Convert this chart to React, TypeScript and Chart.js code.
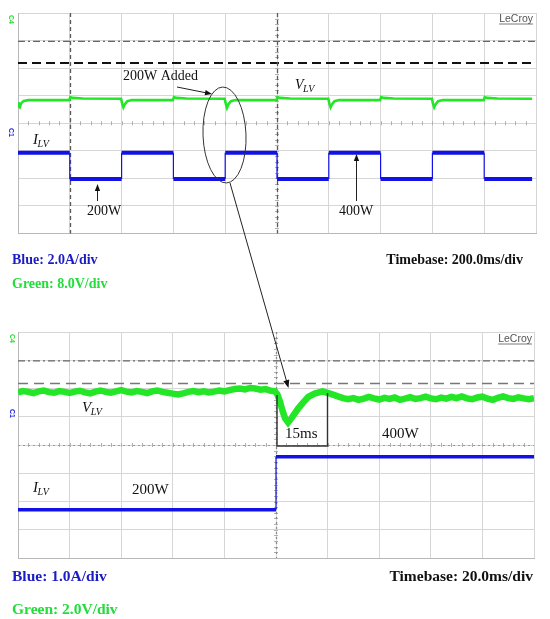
import React, { useEffect, useRef } from "react";
import { Chart, registerables } from "chart.js";
Chart.register(...registerables);

// ---------- Top panel: 200 ms/div, values in screen divisions ----------
const topTimeSpanMs = 2000;
const topTimeStepMs = 200;
const topBlueTimeMs = [0, 200, 200, 400, 400, 600, 600, 800, 800, 1000, 1000, 1200, 1200, 1400, 1400, 1600, 1600, 1800, 1800, 1985];
const topBlueDiv = [2.93, 2.93, 1.98, 1.98, 2.93, 2.93, 1.98, 1.98, 2.93, 2.93, 1.98, 1.98, 2.93, 2.93, 1.98, 1.98, 2.93, 2.93, 1.98, 1.98];
const topGreenTimeMs = [
  0, 3, 7, 12, 22, 40,
  198, 202, 212, 250,
  398, 402, 407, 412, 422, 440,
  598, 602, 612, 650,
  798, 802, 807, 812, 822, 840,
  998, 1002, 1012, 1050,
  1198, 1202, 1207, 1212, 1222, 1240,
  1398, 1402, 1412, 1450,
  1598, 1602, 1607, 1612, 1622, 1640,
  1798, 1802, 1812, 1850,
  1985,
];
const topGreenDiv = [
  4.76, 4.62, 4.58, 4.72, 4.81, 4.84,
  4.84, 4.95, 4.92, 4.9,
  4.89, 4.72, 4.58, 4.68, 4.8, 4.84,
  4.84, 4.95, 4.92, 4.9,
  4.89, 4.72, 4.56, 4.68, 4.8, 4.84,
  4.84, 4.95, 4.92, 4.9,
  4.89, 4.72, 4.58, 4.68, 4.8, 4.84,
  4.84, 4.95, 4.92, 4.9,
  4.89, 4.72, 4.58, 4.68, 4.8, 4.84,
  4.84, 4.95, 4.92, 4.9,
  4.89,
];
const topDashDotLevelDiv = 6.97;
const topDashedLevelDiv = 6.19;
const topMarkerTimesMs = [200, 1000];

// ---------- Bottom panel: 20 ms/div ----------
const botTimeSpanMs = 200;
const botTimeStepMs = 20;
const botBlueTimeMs = [0, 100, 100, 200];
const botBlueDiv = [1.71, 1.71, 3.58, 3.58];
const botGreenTimeMs = [
  0, 2, 4, 6, 8, 10, 12, 14, 16, 18,
  20, 22, 24, 26, 28, 30, 32, 34, 36, 38,
  40, 42, 44, 46, 48, 50, 52, 54, 56, 58,
  60, 62, 64, 66, 68, 70, 72, 74, 76, 78,
  80, 82, 84, 86, 88, 90, 92, 94, 96, 98, 99.5,
  100.5, 101.5, 102.5, 103.5, 104.7, 106, 108.5, 110.5, 112.5, 115, 118, 121,
  124, 126, 128, 130, 132, 134, 136, 138, 140, 142, 144, 146, 148, 150, 152, 154, 156, 158, 160, 162,
  164, 166, 168, 170, 172, 174, 176, 178, 180, 182, 184, 186, 188, 190, 192, 194, 196, 198, 200,
];
const botGreenDiv = [
  5.86, 5.91, 5.88, 5.84, 5.9, 5.93, 5.87, 5.85, 5.91, 5.88,
  5.84, 5.89, 5.92, 5.86, 5.83, 5.89, 5.93, 5.88, 5.85, 5.9,
  5.94, 5.89, 5.86, 5.91, 5.88, 5.84, 5.9, 5.93, 5.88, 5.85,
  5.82, 5.79, 5.83, 5.88, 5.91, 5.87, 5.9, 5.86, 5.89, 5.93,
  5.9, 5.94, 5.98, 6.0, 5.97, 6.02, 6.0, 5.96, 5.98, 5.92, 5.9,
  5.8, 5.55, 5.22, 4.95, 4.8, 4.95, 5.28, 5.5, 5.7, 5.82, 5.9, 5.82,
  5.72, 5.66, 5.62, 5.66, 5.6, 5.64, 5.7, 5.65, 5.61, 5.67, 5.63, 5.68, 5.6, 5.64, 5.69, 5.63, 5.66, 5.71, 5.65, 5.62,
  5.68, 5.64, 5.7, 5.66, 5.72, 5.65, 5.62, 5.68, 5.71, 5.64, 5.6, 5.67, 5.72, 5.66, 5.63, 5.69, 5.65, 5.62, 5.66,
];
const botDashDotLevelDiv = 6.98;
const botDashedLevelDiv = 6.18;
const botCenterTimeMs = 100;

const verticalDivs = 8;

const GREEN = "#22e626";
const BLUE = "#1212e6";
const SERIF = '"Liberation Serif", "Times New Roman", serif';
const SANS = '"Liberation Sans", Arial, sans-serif';

function pts(xs: number[], ys: number[]) {
  return xs.map((x, i) => ({ x, y: ys[i] }));
}

function arrow(ctx: CanvasRenderingContext2D, x1: number, y1: number, x2: number, y2: number, head = 7) {
  const a = Math.atan2(y2 - y1, x2 - x1);
  ctx.beginPath();
  ctx.moveTo(x1, y1);
  ctx.lineTo(x2 - (head - 1) * Math.cos(a), y2 - (head - 1) * Math.sin(a));
  ctx.stroke();
  const w = head * 0.38;
  ctx.beginPath();
  ctx.moveTo(x2, y2);
  ctx.lineTo(x2 - head * Math.cos(a) + w * Math.sin(a), y2 - head * Math.sin(a) - w * Math.cos(a));
  ctx.lineTo(x2 - head * Math.cos(a) - w * Math.sin(a), y2 - head * Math.sin(a) + w * Math.cos(a));
  ctx.closePath();
  ctx.fill();
}

function subLabel(ctx: CanvasRenderingContext2D, main: string, sub: string, x: number, y: number, size: number) {
  ctx.font = `italic ${size}px ${SERIF}`;
  ctx.fillText(main, x, y);
  const w = ctx.measureText(main).width;
  ctx.font = `italic ${Math.round(size * 0.68)}px ${SERIF}`;
  ctx.fillText(sub, x + w - 0.5, y + 3);
}

function lecroy(ctx: CanvasRenderingContext2D, right: number, base: number) {
  ctx.font = `10.5px ${SANS}`;
  ctx.fillStyle = "#555";
  ctx.textAlign = "right";
  ctx.fillText("LeCroy", right, base);
  const w = ctx.measureText("LeCroy").width;
  ctx.strokeStyle = "#555";
  ctx.lineWidth = 0.8;
  ctx.beginPath();
  ctx.moveTo(right - w, base + 2);
  ctx.lineTo(right, base + 2);
  ctx.stroke();
  ctx.textAlign = "left";
}

function chanMark(ctx: CanvasRenderingContext2D, text: string, color: string, x: number, y: number) {
  ctx.save();
  ctx.translate(x, y);
  ctx.rotate(Math.PI / 2);
  ctx.font = `bold 7px ${SANS}`;
  ctx.fillStyle = color;
  ctx.fillText(text, 0, 0);
  ctx.restore();
}

function drawRefs(chart: any, o: { dashDot: number; dashed: number; dashedColor: string; dashedWidth: number; dashedPattern: number[]; vlines: number[]; vColor: string; vDash: number[] }) {
  const { ctx, chartArea: a, scales } = chart;
  const x = scales.x;
  const y = scales.y;
  ctx.save();
  const cy = y.getPixelForValue(verticalDivs / 2);
  const cx = x.getPixelForValue((x.max + x.min) / 2);
  ctx.strokeStyle = "#b0b0b0";
  ctx.lineWidth = 1;
  ctx.beginPath();
  for (let k = 1; k < 50; k++) {
    const px = Math.round(a.left + (k * (a.right - a.left)) / 50) + 0.5;
    ctx.moveTo(px, cy - 2);
    ctx.lineTo(px, cy + 2);
  }
  for (let k = 1; k < 40; k++) {
    const py = Math.round(a.top + (k * (a.bottom - a.top)) / 40) + 0.5;
    ctx.moveTo(cx - 2, py);
    ctx.lineTo(cx + 2, py);
  }
  ctx.stroke();
  const ddy = y.getPixelForValue(o.dashDot);
  ctx.strokeStyle = "#666";
  ctx.lineWidth = 1.3;
  ctx.setLineDash([7, 3, 2, 3]);
  ctx.beginPath();
  ctx.moveTo(a.left, ddy);
  ctx.lineTo(a.right, ddy);
  ctx.stroke();
  const dy = y.getPixelForValue(o.dashed);
  ctx.strokeStyle = o.dashedColor;
  ctx.lineWidth = o.dashedWidth;
  ctx.setLineDash(o.dashedPattern);
  ctx.beginPath();
  ctx.moveTo(a.left, dy);
  ctx.lineTo(a.right, dy);
  ctx.stroke();
  ctx.strokeStyle = o.vColor;
  ctx.lineWidth = 1.3;
  ctx.setLineDash(o.vDash);
  o.vlines.forEach((t) => {
    const px = Math.round(x.getPixelForValue(t)) + 0.5;
    ctx.beginPath();
    ctx.moveTo(px, a.top);
    ctx.lineTo(px, a.bottom);
    ctx.stroke();
  });
  ctx.restore();
}

function baseOptions(span: number, step: number, padding: any) {
  const grid = { color: "#d6d6d6", lineWidth: 1, drawTicks: false };
  const border = { display: true, color: "#b8b8b8", width: 1 };
  return {
    responsive: false,
    animation: false as const,
    events: [] as any[],
    layout: { padding },
    plugins: { legend: { display: false }, tooltip: { enabled: false }, title: { display: false } },
    scales: {
      x: {
        type: "linear" as const,
        min: 0,
        max: span,
        ticks: { display: false, stepSize: step },
        grid,
        border,
        afterFit: (s: any) => {
          s.height = 0;
        },
      },
      y: {
        type: "linear" as const,
        min: 0,
        max: verticalDivs,
        ticks: { display: false, stepSize: 1 },
        grid,
        border,
        afterFit: (s: any) => {
          s.width = 0;
        },
      },
    },
  };
}

function dataset(xs: number[], ys: number[], color: string, width: number) {
  return {
    data: pts(xs, ys),
    borderColor: color,
    backgroundColor: color,
    borderWidth: width,
    pointRadius: 0,
    tension: 0,
    fill: false,
    segment: {
      borderWidth: (c: any) => (c.p0.parsed.x === c.p1.parsed.x ? 1.2 : width),
    },
  };
}

export default function App() {
  const topRef = useRef<HTMLCanvasElement>(null);
  const botRef = useRef<HTMLCanvasElement>(null);

  useEffect(() => {
    const topPlugin = {
      id: "topAnn",
      beforeDatasetsDraw(chart: any) {
        drawRefs(chart, {
          dashDot: topDashDotLevelDiv,
          dashed: topDashedLevelDiv,
          dashedColor: "#111",
          dashedWidth: 2,
          dashedPattern: [9, 5],
          vlines: topMarkerTimesMs,
          vColor: "#5a5a5a",
          vDash: [4, 3],
        });
      },
      afterDraw(chart: any) {
        const ctx: CanvasRenderingContext2D = chart.ctx;
        ctx.save();
        ctx.fillStyle = "#111";
        ctx.strokeStyle = "#222";
        ctx.lineWidth = 1;
        ctx.font = `14px ${SERIF}`;
        ctx.fillText("200W Added", 123, 80);
        arrow(ctx, 177, 87, 212, 94, 7);
        ctx.strokeStyle = "#333";
        ctx.beginPath();
        ctx.ellipse(224.5, 135, 21.5, 48, -0.04, 0, Math.PI * 2);
        ctx.stroke();
        ctx.strokeStyle = "#222";
        arrow(ctx, 230, 183, 288.5, 388, 8);
        ctx.fillStyle = "#111";
        subLabel(ctx, "V", "LV", 295, 89, 14);
        subLabel(ctx, "I", "LV", 33, 144, 15);
        ctx.font = `14px ${SERIF}`;
        ctx.fillText("200W", 87, 215);
        ctx.fillText("400W", 339, 215);
        arrow(ctx, 97.5, 201, 97.5, 184, 7);
        arrow(ctx, 356.5, 201, 356.5, 154, 7);
        lecroy(ctx, 533, 22);
        chanMark(ctx, "C4", GREEN, 9, 15);
        chanMark(ctx, "C1", BLUE, 9, 128);
        ctx.font = `bold 14px ${SERIF}`;
        ctx.fillStyle = "#1c1cc4";
        ctx.fillText("Blue: 2.0A/div", 12, 264);
        ctx.fillStyle = "#22dd3a";
        ctx.fillText("Green: 8.0V/div", 12, 288);
        ctx.fillStyle = "#111";
        ctx.textAlign = "right";
        ctx.fillText("Timebase: 200.0ms/div", 523, 264);
        ctx.restore();
      },
    };

    const botPlugin = {
      id: "botAnn",
      beforeDatasetsDraw(chart: any) {
        drawRefs(chart, {
          dashDot: botDashDotLevelDiv,
          dashed: botDashedLevelDiv,
          dashedColor: "#777",
          dashedWidth: 1.5,
          dashedPattern: [10, 6],
          vlines: [botCenterTimeMs],
          vColor: "#8a8a8a",
          vDash: [2, 3],
        });
        const { ctx, chartArea: a, scales } = chart;
        const cy = scales.y.getPixelForValue(verticalDivs / 2);
        ctx.save();
        ctx.strokeStyle = "#999";
        ctx.setLineDash([2, 3]);
        ctx.beginPath();
        ctx.moveTo(a.left, Math.round(cy) + 0.5);
        ctx.lineTo(a.right, Math.round(cy) + 0.5);
        ctx.stroke();
        ctx.restore();
      },
      afterDraw(chart: any) {
        const ctx: CanvasRenderingContext2D = chart.ctx;
        ctx.save();
        ctx.fillStyle = "#111";
        subLabel(ctx, "V", "LV", 82, 412, 15);
        subLabel(ctx, "I", "LV", 33, 492, 15);
        ctx.font = `15px ${SERIF}`;
        ctx.fillText("200W", 132, 494);
        ctx.fillText("15ms", 285, 438);
        ctx.fillText("400W", 382, 438);
        ctx.strokeStyle = "#333";
        ctx.lineWidth = 1.4;
        ctx.beginPath();
        ctx.moveTo(277, 395);
        ctx.lineTo(277, 446);
        ctx.lineTo(327.5, 446);
        ctx.lineTo(327.5, 393);
        ctx.stroke();
        lecroy(ctx, 532, 342);
        chanMark(ctx, "C4", GREEN, 10, 334);
        chanMark(ctx, "C1", BLUE, 10, 409);
        ctx.font = `bold 15.5px ${SERIF}`;
        ctx.fillStyle = "#1c1cc4";
        ctx.fillText("Blue: 1.0A/div", 12, 581);
        ctx.fillStyle = "#22dd3a";
        ctx.fillText("Green: 2.0V/div", 12, 614);
        ctx.fillStyle = "#111";
        ctx.textAlign = "right";
        ctx.fillText("Timebase: 20.0ms/div", 533, 581);
        ctx.restore();
      },
    };

    const bot = new Chart(botRef.current as HTMLCanvasElement, {
      type: "line",
      data: {
        datasets: [
          dataset(botBlueTimeMs, botBlueDiv, BLUE, 3.5) as any,
          dataset(botGreenTimeMs, botGreenDiv, GREEN, 6.5) as any,
        ],
      },
      options: baseOptions(botTimeSpanMs, botTimeStepMs, { left: 18, right: 16, top: 332, bottom: 61 }) as any,
      plugins: [botPlugin],
    });

    const top = new Chart(topRef.current as HTMLCanvasElement, {
      type: "line",
      data: {
        datasets: [
          dataset(topBlueTimeMs, topBlueDiv, BLUE, 4) as any,
          dataset(topGreenTimeMs, topGreenDiv, GREEN, 2.6) as any,
        ],
      },
      options: baseOptions(topTimeSpanMs, topTimeStepMs, { left: 18, right: 14, top: 13, bottom: 385.5 }) as any,
      plugins: [topPlugin],
    });

    return () => {
      top.destroy();
      bot.destroy();
    };
  }, []);

  const canvasStyle: React.CSSProperties = { position: "absolute", left: 0, top: 0, width: 550, height: 619 };
  return (
    <div style={{ position: "absolute", left: 0, top: 0, width: 550, height: 619, background: "#fff", overflow: "hidden" }}>
      <canvas ref={botRef} width={550} height={619} style={{ ...canvasStyle, zIndex: 1 }} />
      <canvas ref={topRef} width={550} height={619} style={{ ...canvasStyle, zIndex: 2 }} />
    </div>
  );
}
